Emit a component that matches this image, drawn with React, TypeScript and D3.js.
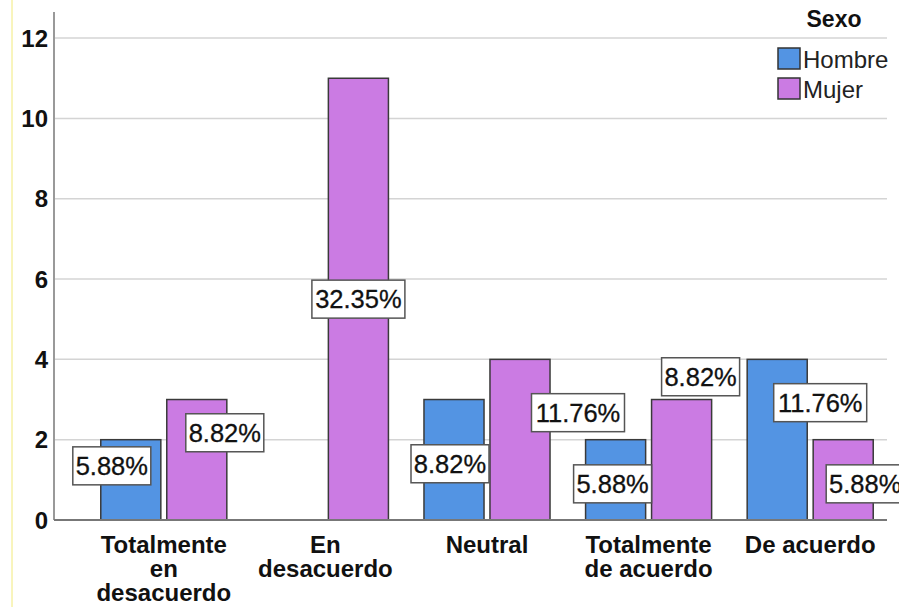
import React from "react";
import * as d3 from "d3";

const categories = [
  ["Totalmente", "en", "desacuerdo"],
  ["En", "desacuerdo"],
  ["Neutral"],
  ["Totalmente", "de acuerdo"],
  ["De acuerdo"],
];
const series = ["Hombre", "Mujer"];
const hombre = [2, 0, 3, 2, 4];
const mujer = [3, 11, 4, 3, 2];
const hombrePct = ["5.88%", "", "8.82%", "5.88%", "11.76%"];
const mujerPct = ["8.82%", "32.35%", "11.76%", "8.82%", "5.88%"];
const yTicks = [0, 2, 4, 6, 8, 10, 12];

// label placement offsets (px) relative to bar centre / bar middle
const hombreLabelOffset = [[-19, -14], [0, 0], [-4, 4], [-3, 4], [43, -37]];
const mujerLabelOffset = [[28, -27], [0, 0], [58, -27], [19, -83], [22, 4]];

const colors = ["#5394E3", "#CB7BE3"];
const FONT = "'Liberation Sans', Arial, sans-serif";

export default function App() {
  const W = 899, H = 607;
  const axisX = 54;
  const plotRight = 887;
  const y = d3.scaleLinear().domain([0, 12.65]).range([520, 12]);
  const x0 = d3.scaleBand<number>().domain(d3.range(categories.length)).range([83, 891]).paddingInner(0.22).paddingOuter(0.11);
  const x1 = d3.scaleBand<string>().domain(series).range([0, x0.bandwidth()]).paddingInner(0.09);
  const values = [hombre, mujer];
  const pcts = [hombrePct, mujerPct];
  const offsets = [hombreLabelOffset, mujerLabelOffset];

  const bars: any[] = [];
  const labels: any[] = [];
  categories.forEach((_, i) => {
    series.forEach((s, j) => {
      const v = values[j][i];
      if (v <= 0) return;
      const bx = (x0(i) as number) + (x1(s) as number);
      const bw = x1.bandwidth();
      bars.push(
        <rect key={`b${i}${j}`} x={bx} y={y(v)} width={bw} height={y(0) - y(v)}
          fill={colors[j]} stroke="#3a3a3a" strokeWidth={1.5} />
      );
      const txt = pcts[j][i];
      if (txt) {
        const cx = bx + bw / 2 + offsets[j][i][0];
        const cy = (y(v) + y(0)) / 2 + offsets[j][i][1];
        const tw = txt.length * 15 + 3;
        labels.push(
          <g key={`l${i}${j}`}>
            <rect x={cx - tw / 2} y={cy - 19} width={tw} height={38} fill="#fff" stroke="#555" strokeWidth={1.5} />
            <text x={cx} y={cy + 9} textAnchor="middle" fontSize={25.5} fontFamily={FONT} fill="#111" stroke="#111" strokeWidth={0.3}>{txt}</text>
          </g>
        );
      }
    });
  });

  return (
    <svg width={W} height={H} style={{ position: "absolute", left: 0, top: 0, background: "#fff" }}>
      <rect x={0} y={0} width={W} height={H} fill="#fff" />
      <line x1={12} x2={12} y1={0} y2={H} stroke="#f2ea7a" strokeWidth={1} />
      {yTicks.filter(t => t > 0).map(t => (
        <line key={`g${t}`} x1={axisX} x2={plotRight} y1={y(t)} y2={y(t)} stroke="#d4d4d4" strokeWidth={1.5} />
      ))}
      {yTicks.map(t => (
        <text key={`t${t}`} x={48} y={y(t) + 8.5} textAnchor="end" fontSize={24} fontWeight="bold" fontFamily={FONT} fill="#111">{t}</text>
      ))}
      {bars}
      <line x1={axisX} x2={axisX} y1={12} y2={y(0)} stroke="#999" strokeWidth={2} />
      <line x1={axisX} x2={plotRight} y1={y(0)} y2={y(0)} stroke="#777" strokeWidth={2} />
      {categories.map((lines, i) => (
        <text key={`c${i}`} textAnchor="middle" fontSize={24} fontWeight="bold" fontFamily={FONT} fill="#111">
          {lines.map((ln, k) => (
            <tspan key={k} x={(x0(i) as number) + x0.bandwidth() / 2} y={553 + k * 24}>{ln}</tspan>
          ))}
        </text>
      ))}
      {labels}
      <g>
        <text x={834} y={27} textAnchor="middle" fontSize={23} fontWeight="bold" fontFamily={FONT} fill="#111">Sexo</text>
        {series.map((s, j) => (
          <g key={`lg${j}`}>
            <rect x={778} y={48 + j * 30} width={22} height={21} fill={colors[j]} stroke="#333" strokeWidth={1.5} />
            <text x={803} y={68 + j * 30} fontSize={24} fontFamily={FONT} fill="#222">{s}</text>
          </g>
        ))}
      </g>
    </svg>
  );
}
